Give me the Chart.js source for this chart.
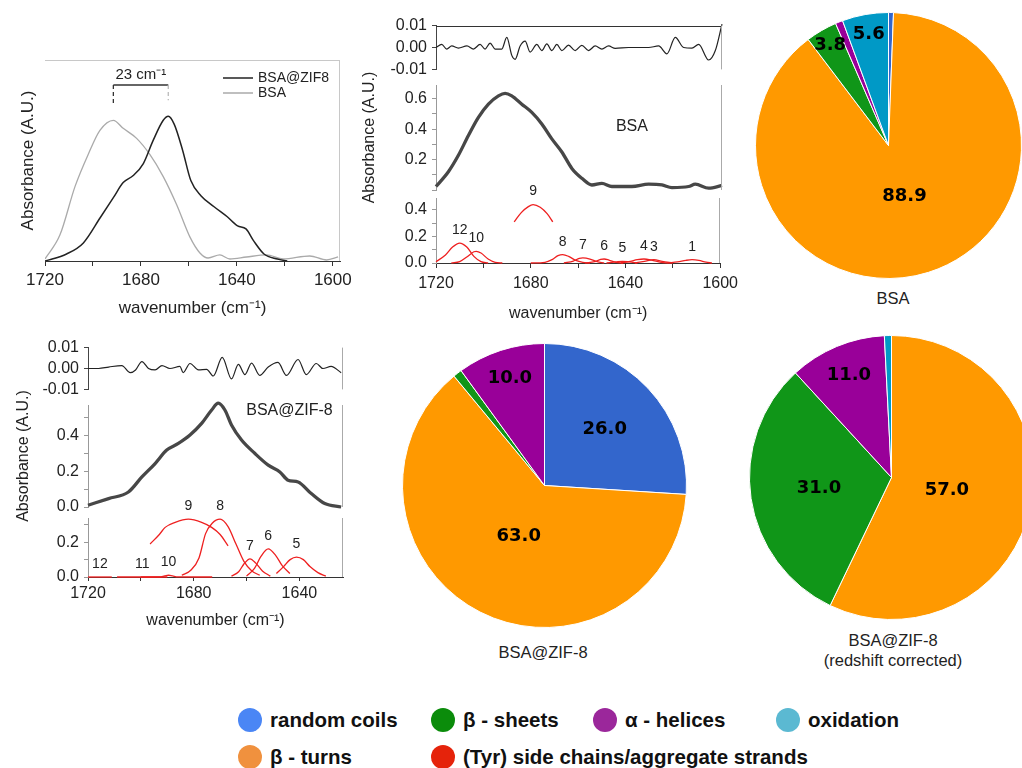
<!DOCTYPE html>
<html>
<head>
<meta charset="utf-8">
<script src="https://cdn.jsdelivr.net/npm/chart.js@4.4.1/dist/chart.umd.min.js"></script>
<style>
  html, body { margin: 0; padding: 0; background: #fff; }
  body { width: 1022px; height: 768px; position: relative; overflow: hidden; font-family: "Liberation Sans", Arial, sans-serif; color: #222; }
  .box { position: absolute; }
  .cap { position: absolute; text-align: center; font-size: 16.5px; line-height: 20px; color: #222; }
  #legend { position: absolute; left: 238px; top: 707px; display: grid; grid-template-columns: 193px 162px 183px auto; row-gap: 11px; font-weight: bold; font-size: 20.5px; color: #111; }
  .item { display: flex; align-items: center; height: 26px; white-space: nowrap; }
  .dot { width: 24px; height: 24px; border-radius: 50%; margin-right: 8px; flex: none; }
</style>
</head>
<body>
<div class="box" id="pA"><canvas></canvas></div>
<div class="box" id="bRes"><canvas></canvas></div>
<div class="box" id="bAbs"><canvas></canvas></div>
<div class="box" id="bBand"><canvas></canvas></div>
<div class="box" id="cRes"><canvas></canvas></div>
<div class="box" id="cAbs"><canvas></canvas></div>
<div class="box" id="cBand"><canvas></canvas></div>
<div class="box" id="pie1" style="left:755px;top:12px;width:267px;height:267px"><canvas></canvas></div>
<div class="box" id="pie2" style="left:402px;top:343px;width:285px;height:285px"><canvas></canvas></div>
<div class="box" id="pie3" style="left:749px;top:335px;width:285px;height:285px"><canvas></canvas></div>
<div class="cap" style="left:843px;top:288px;width:100px">BSA</div>
<div class="cap" style="left:443px;top:642px;width:200px">BSA@ZIF-8</div>
<div class="cap" style="left:793px;top:630px;width:200px">BSA@ZIF-8<br>(redshift corrected)</div>
<div id="legend"></div>

<script>
// ---- panel a: BSA vs BSA@ZIF8 amide I
const bsaWn  = [1720, 1713.75, 1707.5, 1702, 1697.1, 1691.5, 1687.4, 1681.8, 1676.3, 1670.7, 1665.1, 1659.6, 1655.4, 1652, 1647.1, 1642.9, 1636, 1627.6, 1620.7, 1609.6, 1602.6, 1597.8];
const bsaAbs = [0.01, 0.13, 0.37, 0.53, 0.65, 0.70, 0.66, 0.61, 0.53, 0.42, 0.28, 0.12, 0.04, 0.015, 0.03, 0.01, 0.02, 0.03, 0.01, 0.025, 0.005, 0.02];
const zifWn  = [1720, 1711, 1704, 1697, 1691.5, 1687.4, 1683.2, 1679, 1674.9, 1670.7, 1668.6, 1666.1, 1662.6, 1659.2, 1655, 1649.5, 1644, 1639.7, 1636.2, 1633, 1628.7, 1623.1, 1619];
const zifAbs = [0, 0.035, 0.09, 0.215, 0.315, 0.39, 0.425, 0.485, 0.6, 0.70, 0.72, 0.68, 0.55, 0.40, 0.325, 0.27, 0.22, 0.175, 0.16, 0.10, 0.035, 0.01, 0];
const shiftText = '23 cm⁻¹';

// ---- panel b: BSA fit
const bsaResWn  = [1720, 1717.6, 1715.5, 1713.4, 1710.6, 1707, 1704.3, 1701.5, 1699.4, 1697.3, 1695.2, 1692.4, 1690.3, 1688.2, 1686.8, 1684.7, 1682.6, 1680.5, 1677.7, 1675.6, 1673.5, 1671.4, 1669.3, 1667.2, 1664.4, 1661.6, 1658.8, 1656, 1653.2, 1650.4, 1647.6, 1644.8, 1639.2, 1630.8, 1626.6, 1623.1, 1619.6, 1616.1, 1612.6, 1609.8, 1605.6, 1602.8, 1600];
const bsaResVal = [0, 0.0014, -0.0007, 0.0007, -0.0003, 0.0007, -0.0007, 0.0014, -0.0007, 0.002, -0.0007, -0.0007, 0.0046, -0.0036, -0.0054, 0.0007, 0.0029, -0.0021, 0.0014, -0.0014, 0.0017, -0.0014, 0.0014, -0.0014, 0.0011, -0.0014, 0.001, -0.0014, 0.0007, -0.0007, 0.0007, -0.0004, 0, 0, 0.0007, -0.0029, 0.0046, 0, -0.0003, 0.0014, -0.0057, -0.0014, 0.0107];
const bsaAbsWn  = [1720, 1714.8, 1710.6, 1706.4, 1702.2, 1698, 1693.8, 1691, 1688.2, 1684, 1679.8, 1675.6, 1671.4, 1667.2, 1663, 1658.8, 1654.6, 1650.4, 1646.2, 1637.8, 1630.8, 1625.2, 1621, 1614, 1611.2, 1605.6, 1600];
const bsaAbsVal = [0.023, 0.12, 0.228, 0.358, 0.477, 0.564, 0.618, 0.635, 0.618, 0.564, 0.51, 0.434, 0.336, 0.25, 0.142, 0.077, 0.033, 0.044, 0.023, 0.023, 0.038, 0.033, 0.016, 0.023, 0.038, 0.012, 0.03];
const bsaBandLabels = ['12', '10', '9', '8', '7', '6', '5', '4', '3', '1'];
const bsaBandWn = [
  [1720, 1716, 1713, 1710, 1707, 1704, 1701, 1698],
  [1713.5, 1710, 1707, 1704, 1703, 1701, 1698, 1695, 1692],
  [1687, 1684, 1681, 1679, 1676, 1673, 1670.7],
  [1680, 1674, 1671, 1668.5, 1666.5, 1664, 1661, 1658, 1655],
  [1666, 1662, 1659.5, 1658, 1655, 1652, 1649],
  [1657, 1653, 1650.5, 1649, 1647, 1644, 1641],
  [1648, 1644, 1641.3, 1638.5, 1635],
  [1642, 1638, 1635, 1632.2, 1629, 1625, 1622],
  [1636, 1632, 1628, 1624.5, 1620],
  [1622, 1618, 1614.5, 1611.9, 1609, 1606, 1603.5]
];
const bsaBandVal = [
  [0.01, 0.06, 0.12, 0.15, 0.12, 0.05, 0.01, 0],
  [0, 0.01, 0.045, 0.085, 0.088, 0.075, 0.03, 0.005, 0],
  [0.31, 0.38, 0.425, 0.44, 0.42, 0.37, 0.31],
  [0, 0.005, 0.025, 0.055, 0.063, 0.05, 0.02, 0.005, 0],
  [0, 0.015, 0.035, 0.038, 0.03, 0.01, 0],
  [0, 0.01, 0.027, 0.03, 0.022, 0.005, 0],
  [0, 0.008, 0.0125, 0.008, 0],
  [0, 0.012, 0.025, 0.03, 0.022, 0.005, 0],
  [0, 0.012, 0.025, 0.012, 0],
  [0, 0.008, 0.02, 0.025, 0.02, 0.006, 0]
];

// ---- panel c: BSA@ZIF-8 fit
const zifResWn  = [1720, 1716, 1712.2, 1707.2, 1704, 1702, 1699.6, 1697.1, 1694.6, 1692, 1689, 1685.2, 1684, 1681.4, 1678.2, 1675.1, 1672.6, 1669.2, 1665.7, 1663.1, 1660.6, 1658.1, 1655, 1651.8, 1648.1, 1644.9, 1640.5, 1637.4, 1633.6, 1631.1, 1628, 1624.2];
const zifResVal = [0, 0, 0.0007, 0.0014, -0.002, -0.0007, 0.0033, 0, -0.0007, 0.0014, 0, 0.001, -0.002, 0.0024, -0.0007, -0.0004, -0.0036, 0.0053, -0.005, 0.002, -0.0029, 0.0026, -0.0033, 0.0007, 0.0029, -0.0033, 0.0043, -0.0029, 0.0024, 0, 0.001, -0.002];
const zifAbsWn  = [1720, 1712.2, 1704.7, 1699.6, 1694.6, 1690.2, 1685.8, 1681.4, 1677, 1673.2, 1670.7, 1668.2, 1665.7, 1661.9, 1656.9, 1651.8, 1647.4, 1644.3, 1640.5, 1635.5, 1630.4, 1624.2];
const zifAbsVal = [0.01, 0.047, 0.084, 0.168, 0.243, 0.318, 0.355, 0.402, 0.467, 0.542, 0.58, 0.542, 0.458, 0.374, 0.3, 0.234, 0.196, 0.15, 0.14, 0.075, 0.019, 0];
const zifBandLabels = ['12', '11', '10', '9', '8', '7', '6', '5'];
const zifBandWn = [
  [1720, 1711],
  [1709, 1690],
  [1700, 1693, 1691, 1689.5, 1688, 1686, 1673],
  [1696.5, 1693, 1690.8, 1687, 1682, 1677, 1673.2, 1670, 1667],
  [1684.5, 1681, 1678, 1675.5, 1673, 1670, 1667, 1664, 1661, 1658, 1655],
  [1665.7, 1663, 1661, 1658.7, 1656.5, 1654, 1651],
  [1660, 1657, 1654.5, 1651.8, 1649, 1646.5, 1643.6],
  [1648.7, 1646, 1643.5, 1641.1, 1638.5, 1636, 1633, 1630]
];
const zifBandVal = [
  [0, 0],
  [0, 0],
  [0, 0.001, 0.006, 0.01, 0.006, 0.001, 0],
  [0.19, 0.245, 0.286, 0.315, 0.333, 0.315, 0.286, 0.245, 0.18],
  [0.01, 0.04, 0.11, 0.25, 0.31, 0.333, 0.29, 0.19, 0.09, 0.035, 0.01],
  [0.005, 0.03, 0.075, 0.105, 0.08, 0.035, 0.005],
  [0.005, 0.05, 0.12, 0.162, 0.125, 0.065, 0.02],
  [0.02, 0.06, 0.1, 0.114, 0.1, 0.06, 0.025, 0.005]
];

// ---- pies (% secondary structure)
const structLabels = ['random coils', 'β - turns', 'β - sheets', 'α - helices', 'oxidation'];
const pieBsa     = [0.6, 88.9, 3.8, 0.9, 5.6];
const pieZif     = [26.0, 63.0, 1.0, 10.0, 0];
const pieZifCorr = [0, 57.0, 31.0, 11.0, 0.8];
const pieColors  = ['#3366cc', '#ff9900', '#109618', '#990099', '#0099c6'];

const legendLabels = ['random coils', 'β - sheets', 'α - helices', 'oxidation', 'β - turns', '(Tyr) side chains/aggregate strands'];
const legendColors = ['#4a86f5', '#0b8c0b', '#9b279b', '#5bb9d2', '#f0913e', '#e5230b'];

const FONT = '"Liberation Sans", Arial, sans-serif';
const red = '#ee2020';

Chart.defaults.animation = false;
Chart.defaults.font.family = FONT;
Chart.defaults.color = '#222';
Chart.defaults.plugins.legend.display = false;
Chart.defaults.plugins.tooltip.enabled = false;

function pts(xs, ys) { return xs.map((x, i) => ({ x: x, y: ys[i] })); }

// extra lines / inner text per subplot
const frame = {
  id: 'frame',
  afterDraw(chart, args, o) {
    const { ctx, chartArea: a } = chart;
    ctx.save();
    ctx.lineWidth = 1;
    if (o.top) {
      ctx.strokeStyle = o.top;
      ctx.beginPath(); ctx.moveTo(a.left, Math.round(a.top) + 0.5); ctx.lineTo(a.right, Math.round(a.top) + 0.5); ctx.stroke();
    }
    if (o.right) {
      ctx.strokeStyle = o.right;
      ctx.beginPath(); ctx.moveTo(Math.round(a.right) - 0.5, a.top); ctx.lineTo(Math.round(a.right) - 0.5, a.bottom); ctx.stroke();
    }
    if (o.text) {
      ctx.font = '16px ' + FONT;
      ctx.fillStyle = '#222';
      ctx.textAlign = 'center';
      ctx.textBaseline = 'middle';
      ctx.fillText(o.text, a.left + a.width * o.fx, a.top + a.height * o.fy);
    }
    ctx.restore();
  }
};

// numbers above fitted component bands
const bandNumbers = {
  id: 'bandNumbers',
  afterDatasetsDraw(chart) {
    const ctx = chart.ctx, sx = chart.scales.x, sy = chart.scales.y;
    ctx.save();
    ctx.font = '14px ' + FONT;
    ctx.fillStyle = '#222';
    ctx.textAlign = 'center';
    ctx.textBaseline = 'middle';
    chart.data.datasets.forEach(ds => {
      if (!ds.band) return;
      let best = 0;
      ds.data.forEach((p, j) => { if (p.y > ds.data[best].y) best = j; });
      let xv = ds.data[best].x;
      if (ds.data[best].y === 0) xv = (ds.data[0].x + ds.data[ds.data.length - 1].x) / 2;
      ctx.fillText(ds.band, sx.getPixelForValue(xv), sy.getPixelForValue(ds.data[best].y) - 13);
    });
    ctx.restore();
  }
};

// legend + peak-shift bracket of panel a
const shiftMarks = {
  id: 'shiftMarks',
  afterDatasetsDraw(chart) {
    const { ctx, chartArea: a } = chart, sx = chart.scales.x, sy = chart.scales.y;
    const peaks = chart.data.datasets.map(ds => {
      let best = 0;
      ds.data.forEach((p, j) => { if (p.y > ds.data[best].y) best = j; });
      return { x: sx.getPixelForValue(ds.data[best].x), y: sy.getPixelForValue(ds.data[best].y) };
    });
    const zif = peaks[0], bsa = peaks[1];
    const yb = a.top + 25;
    ctx.save();
    ctx.lineWidth = 1.3;
    ctx.strokeStyle = '#333';
    ctx.beginPath(); ctx.moveTo(bsa.x, yb); ctx.lineTo(zif.x, yb); ctx.stroke();
    ctx.setLineDash([4, 3]);
    ctx.beginPath(); ctx.moveTo(bsa.x, yb); ctx.lineTo(bsa.x, bsa.y - 15); ctx.stroke();
    ctx.strokeStyle = '#bbb';
    ctx.beginPath(); ctx.moveTo(zif.x, yb); ctx.lineTo(zif.x, zif.y - 16); ctx.stroke();
    ctx.setLineDash([]);
    ctx.font = '15px ' + FONT;
    ctx.fillStyle = '#222';
    ctx.textAlign = 'center';
    ctx.textBaseline = 'middle';
    ctx.fillText(shiftText, (bsa.x + zif.x) / 2, yb - 10);
    // legend
    ctx.font = '14px ' + FONT;
    ctx.textAlign = 'left';
    chart.data.datasets.forEach((ds, i) => {
      const y = a.top + 18 + i * 15;
      ctx.strokeStyle = ds.borderColor;
      ctx.lineWidth = 1.5;
      ctx.beginPath(); ctx.moveTo(a.left + 178, y); ctx.lineTo(a.left + 208, y); ctx.stroke();
      ctx.fillText(ds.label, a.left + 213, y);
    });
    ctx.restore();
  }
};

// values written on the pie slices
const sliceValues = {
  id: 'sliceValues',
  afterDatasetsDraw(chart) {
    const ctx = chart.ctx, meta = chart.getDatasetMeta(0), vals = chart.data.datasets[0].data;
    const total = vals.reduce((s, v) => s + v, 0);
    ctx.save();
    ctx.font = 'bold 18px "DejaVu Sans", sans-serif';
    ctx.fillStyle = '#000';
    ctx.textAlign = 'center';
    ctx.textBaseline = 'middle';
    meta.data.forEach((arc, i) => {
      if (vals[i] < 3) return;
      const pct = vals[i] / total * 100;
      const p = arc.getProps(['x', 'y', 'startAngle', 'endAngle', 'outerRadius'], true);
      const mid = (p.startAngle + p.endAngle) / 2;
      const f = Math.min(0.88, Math.max(0.4, 0.92 - 0.013 * pct));
      ctx.fillText(vals[i].toFixed(1), p.x + Math.cos(mid) * p.outerRadius * f, p.y + Math.sin(mid) * p.outerRadius * f);
    });
    ctx.restore();
  }
};

function place(id, box, m) {
  const el = document.getElementById(id);
  el.style.left = (box.l - m.yw) + 'px';
  el.style.top = (box.t - m.pt) + 'px';
  el.style.width = (box.r - box.l + m.yw + m.pr) + 'px';
  el.style.height = (box.b - box.t + m.pt + m.pb + m.xh) + 'px';
}

function yScale(min, max, step, fmt, m, color, title, fs) {
  return {
    min: min, max: max,
    border: { color: color },
    grid: { drawOnChartArea: false, tickLength: 4, color: color },
    ticks: { stepSize: step, includeBounds: false, autoSkip: false, padding: 5, font: { size: 16 }, color: '#222', callback: fmt },
    title: { display: !!title, text: title || '', font: { size: fs || 16 }, color: '#222', padding: { top: 4, bottom: 4 } },
    afterFit(s) { s.width = m.yw; }
  };
}

function xScale(min, max, show, m, fs, tl, pad) {
  return {
    type: 'linear', reverse: true, min: min, max: max, display: show,
    border: { color: '#333' },
    grid: { drawOnChartArea: false, tickLength: tl, color: '#333' },
    ticks: { stepSize: 20, includeBounds: false, autoSkip: false, maxRotation: 0, padding: pad, font: { size: fs }, color: '#222',
             callback: v => (Math.round(v) % 40 === 0 ? String(Math.round(v)) : '') },
    title: { display: true, text: 'wavenumber (cm⁻¹)', font: { size: fs }, color: '#222', padding: { top: 4, bottom: 4 } },
    afterFit(s) { s.height = m.xh; }
  };
}

function lineChart(id, box, m, datasets, scales, frameOpts, extra) {
  place(id, box, m);
  return new Chart(document.querySelector('#' + id + ' canvas'), {
    type: 'line',
    data: { datasets: datasets },
    options: {
      responsive: true, maintainAspectRatio: false,
      layout: { padding: { top: m.pt, right: m.pr, bottom: m.pb, left: 0 } },
      elements: { point: { radius: 0 }, line: { cubicInterpolationMode: 'monotone' } },
      scales: scales,
      plugins: { frame: frameOpts }
    },
    plugins: [frame].concat(extra || [])
  });
}

const fmtRes = v => v.toFixed(2);
const fmtEven = skipZero => v => {
  const k = Math.round(v * 10);
  if (k % 2 !== 0 || (skipZero && k === 0)) return '';
  return (k / 10).toFixed(1);
};
const thin = (xs, ys) => ({ data: pts(xs, ys), borderColor: '#222', borderWidth: 1.2 });
// measured spectrum + fit drawn on top of each other
const doubled = (xs, ys) => [
  { data: pts(xs, ys), borderColor: '#474747', borderWidth: 3.3, clip: false },
  { data: pts(xs, ys), borderColor: '#d6d6d6', borderWidth: 1.2, clip: false }
];
const bands = (labels, wns, vals) => labels.map((lab, i) => ({ band: lab, data: pts(wns[i], vals[i]), borderColor: red, borderWidth: 1.3, clip: false }));

// ---- panel a
const mA = { yw: 31, pt: 0, pr: 20, pb: 0, xh: 62 };
lineChart('pA', { l: 45, t: 60, r: 340, b: 261 }, mA, [
  { label: 'BSA@ZIF8', data: pts(zifWn, zifAbs), borderColor: '#222', borderWidth: 1.5 },
  { label: 'BSA', data: pts(bsaWn, bsaAbs), borderColor: '#aaa', borderWidth: 1.3 }
], {
  x: xScale(1597, 1720, true, mA, 17, 5, 4),
  y: { min: 0, max: 1, border: { display: false }, grid: { display: false }, ticks: { display: false },
       title: { display: true, text: 'Absorbance (A.U.)', font: { size: 17 }, color: '#222', padding: { top: 4, bottom: 4 } },
       afterFit(s) { s.width = mA.yw; } }
}, { top: '#c8c8c8', right: '#c8c8c8' }, [shiftMarks]);

// ---- panel b
const mB = { yw: 80, pt: 12, pr: 22, pb: 12, xh: 0 };
const mBt = { yw: 80, pt: 30, pr: 22, pb: 30, xh: 0 };
const mBx = { yw: 80, pt: 25, pr: 22, pb: 0, xh: 64 };
lineChart('bRes', { l: 436, t: 23, r: 722, b: 72 }, mB, [Object.assign(thin(bsaResWn, bsaResVal), { clip: false })], {
  x: xScale(1600, 1720, false, mB, 16, 5, 6),
  y: yScale(-0.01, 0.01, 0.01, fmtRes, mB, '#444')
}, { top: '#333', right: '#aaa' });

lineChart('bAbs', { l: 436, t: 85, r: 722, b: 190 }, mBt, doubled(bsaAbsWn, bsaAbsVal), {
  x: xScale(1600, 1720, false, mBt, 16, 5, 6),
  y: yScale(0, 0.69, 0.1, fmtEven(true), mBt, '#999', 'Absorbance (A.U.)')
}, { right: '#aaa', text: 'BSA', fx: 0.685, fy: 0.4 });

lineChart('bBand', { l: 436, t: 198, r: 722, b: 263 }, mBx, bands(bsaBandLabels, bsaBandWn, bsaBandVal), {
  x: xScale(1600, 1720, true, mBx, 16, 5, 6),
  y: yScale(0, 0.49, 0.1, fmtEven(false), mBx, '#999')
}, { right: '#aaa' }, [bandNumbers]);

// ---- panel c
const mC = { yw: 78, pt: 12, pr: 22, pb: 12, xh: 0 };
const mCt = { yw: 78, pt: 45, pr: 22, pb: 45, xh: 0 };
const mCx = { yw: 78, pt: 25, pr: 22, pb: 0, xh: 57 };
lineChart('cRes', { l: 88, t: 345, r: 343, b: 392 }, mC, [thin(zifResWn, zifResVal)], {
  x: xScale(1623.5, 1720, false, mC, 16, 4, 3),
  y: yScale(-0.01, 0.01, 0.01, fmtRes, mC, '#444')
}, { right: '#aaa' });

lineChart('cAbs', { l: 88, t: 405, r: 343, b: 507 }, mCt, doubled(zifAbsWn, zifAbsVal), {
  x: xScale(1623.5, 1720, false, mCt, 16, 4, 3),
  y: yScale(0, 0.57, 0.1, fmtEven(false), mCt, '#999', 'Absorbance (A.U.)')
}, { right: '#aaa', text: 'BSA@ZIF-8', fx: 0.79, fy: 0.05 });

lineChart('cBand', { l: 88, t: 518, r: 343, b: 577 }, mCx, bands(zifBandLabels, zifBandWn, zifBandVal), {
  x: xScale(1623.5, 1720, true, mCx, 16, 4, 3),
  y: yScale(0, 0.34, 0.1, fmtEven(false), mCx, '#999')
}, { right: '#aaa' }, [bandNumbers]);

// ---- pies
function pie(id, values) {
  return new Chart(document.querySelector('#' + id + ' canvas'), {
    type: 'pie',
    data: { labels: structLabels, datasets: [{ data: values, backgroundColor: pieColors, borderColor: '#fff', borderWidth: 1 }] },
    options: { responsive: true, maintainAspectRatio: false, layout: { padding: 0 } },
    plugins: [sliceValues]
  });
}
pie('pie1', pieBsa);
pie('pie2', pieZif);
pie('pie3', pieZifCorr);

// ---- shared legend
const legend = document.getElementById('legend');
legendLabels.forEach((lab, i) => {
  const item = document.createElement('div');
  item.className = 'item';
  const dot = document.createElement('span');
  dot.className = 'dot';
  dot.style.background = legendColors[i];
  item.appendChild(dot);
  item.appendChild(document.createTextNode(lab));
  legend.appendChild(item);
});
</script>
</body>
</html>
